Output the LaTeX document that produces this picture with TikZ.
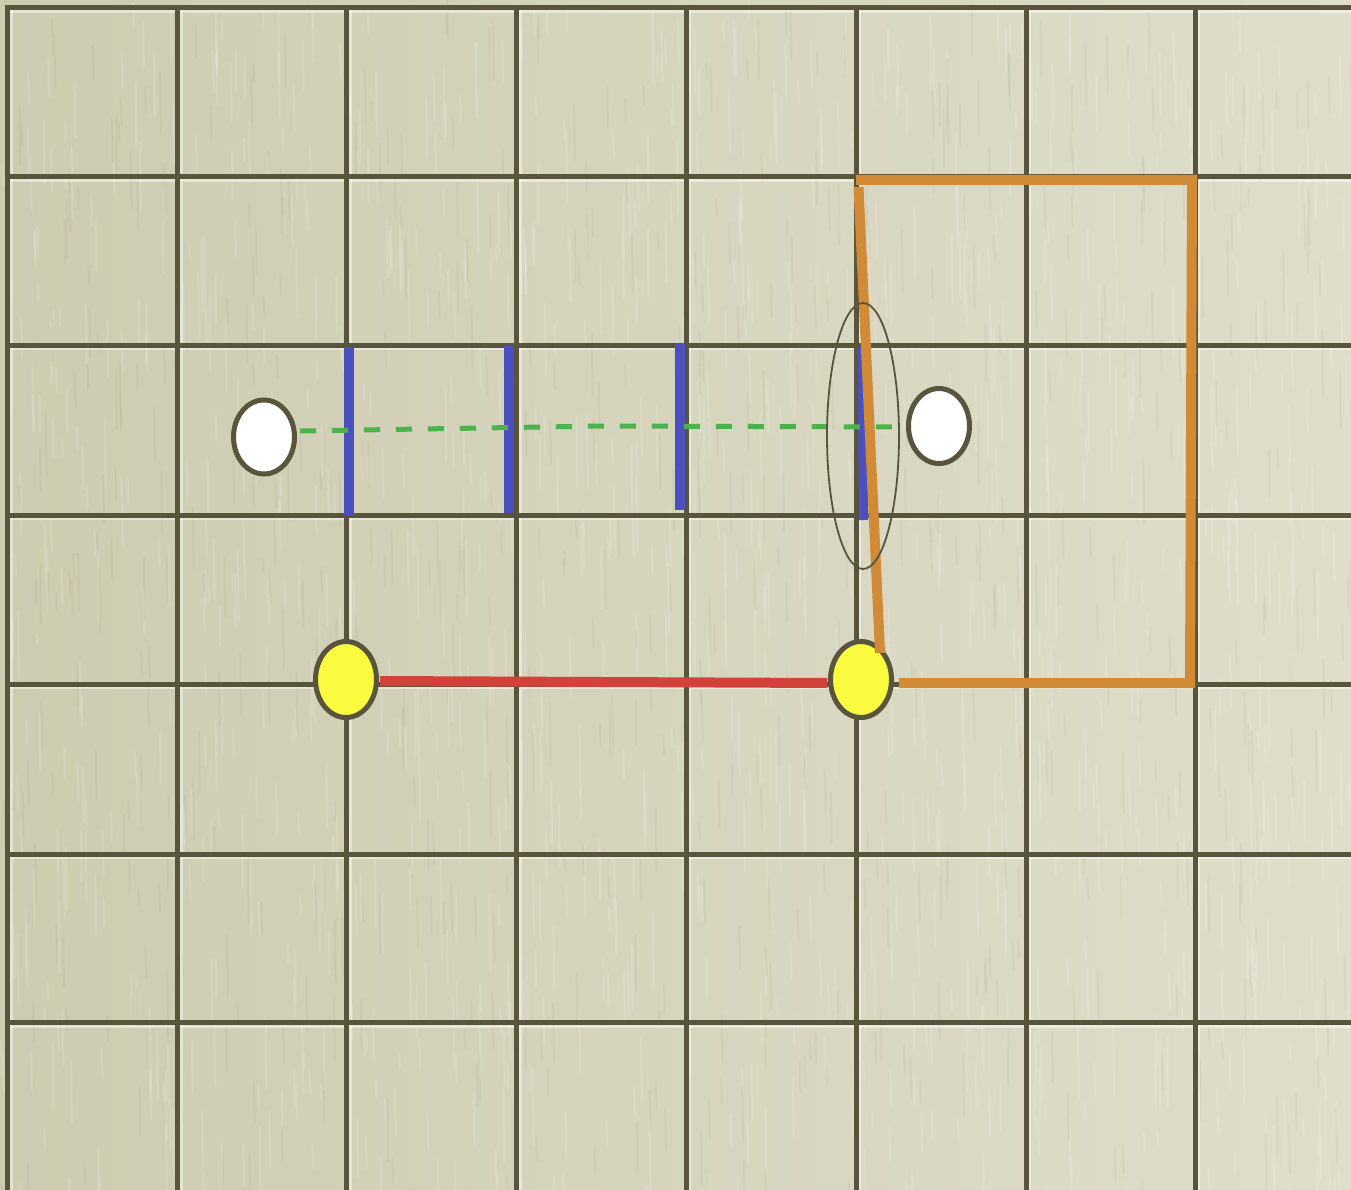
\documentclass[tikz,border=0pt]{standalone}
\usetikzlibrary{shapes.geometric}
\definecolor{gridc}{RGB}{89,84,60}
\definecolor{bgl}{RGB}{205,203,176}
\definecolor{bgr}{RGB}{223,222,203}
\definecolor{bluec}{RGB}{75,80,192}
\definecolor{greenc}{RGB}{76,178,74}
\definecolor{redc}{RGB}{210,66,58}
\definecolor{orangec}{RGB}{209,138,54}
\definecolor{yellowc}{RGB}{250,250,62}
\begin{document}
\begin{tikzpicture}[x=1pt,y=-1pt,
  gridline/.style={gridc, line width=5pt},
  hilite/.style={white, opacity=0.45, line width=2.5pt},
  bluebar/.style={bluec, line width=10pt},
  greendash/.style={greenc, line width=5pt, dash pattern=on 16pt off 16pt},
  redline/.style={redc, line width=10pt},
  orangeline/.style={orangec, line width=10pt, line join=miter},
  disc/.style={ellipse, draw=gridc, line width=5pt, inner sep=0pt, minimum width=61pt},
  lensstyle/.style={ellipse, draw=gridc, line width=1.8pt, inner sep=0pt, minimum width=72pt, minimum height=266pt}]
\useasboundingbox (0,0) rectangle (1351,1190);
% paper background
\fill[left color=bgl, right color=bgr] (0,0) rectangle (1351,1190);
\pgfmathsetseed{11}
\foreach \i in {1,...,1100}{
  \pgfmathsetmacro{\xx}{rnd*1351}
  \pgfmathsetmacro{\yy}{rnd*1190}
  \pgfmathsetmacro{\ll}{15+rnd*60}
  \draw[white, opacity=0.12, line width=2.5pt, line cap=round] (\xx,\yy) -- ++(0.8,\ll);
}
\foreach \i in {1,...,600}{
  \pgfmathsetmacro{\xx}{rnd*1351}
  \pgfmathsetmacro{\yy}{rnd*1190}
  \pgfmathsetmacro{\ll}{15+rnd*50}
  \draw[gridc, opacity=0.05, line width=2pt, line cap=round] (\xx,\yy) -- ++(0.8,\ll);
}
% grid
\foreach \x in {7.5,177.5,346.5,516.5,686,856,1026,1195}{
  \draw[hilite] (\x+4,5) -- (\x+4,1190);
}
\foreach \y in {7.5,176.5,345,515,684,854,1022.5}{
  \draw[hilite] (5,\y+4) -- (1351,\y+4);
}
\foreach \x in {7.5,177.5,346.5,516.5,686,856,1026,1195}{
  \draw[gridline] (\x,5) -- (\x,1190);
}
\foreach \y in {7.5,176.5,345,515,684,854,1022.5}{
  \draw[gridline] (5,\y) -- (1351,\y);
}
% blue bars
\draw[bluebar] (349,347) -- (349,515);
\draw[bluebar] (509,346) -- (509,513);
\draw[bluebar] (680,343) -- (680,510);
\draw[bluec, line width=9pt] (862,347) -- (863.5,520);
% green dashed line
\coordinate (g0) at (300,431);
\coordinate (g1) at (603,426);
\coordinate (g2) at (905,427);
\draw[greendash] (g0) -- (g1) -- (g2);
% nodes
\node[disc, fill=white, minimum height=74pt] (wL) at (264,437) {};
\node[disc, fill=white, minimum height=75pt] (wR) at (939,426) {};
\node[disc, fill=yellowc, minimum height=76pt] (yL) at (346,679.5) {};
\node[disc, fill=yellowc, minimum height=76pt] (yR) at (861,679.5) {};
% red connector
\draw[redline, shorten <=1pt, shorten >=1pt] ([yshift=-1.5pt]yL.east) -- ([yshift=-3.5pt]yR.west);
% orange frame
\draw[orangeline] (899,683) -- (1190,683) -- (1192,180) -- (856,180);
\draw[orangeline] (858.5,187) -- (880,653);
% thin lens ellipse
\node[lensstyle] (lens) at (863,436) {};
\end{tikzpicture}
\end{document}
